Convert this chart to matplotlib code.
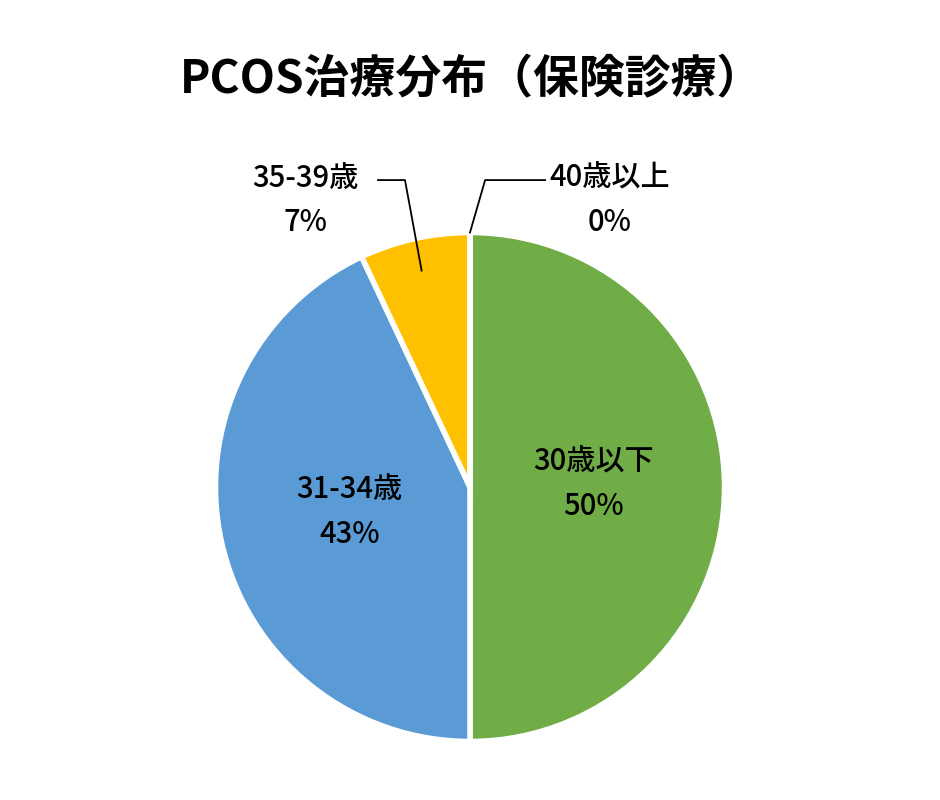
import numpy as np
import matplotlib.pyplot as plt

plt.rcParams['font.family'] = ['Noto Sans CJK JP', 'DejaVu Sans']

labels = ['30歳以下', '31-34歳', '35-39歳', '40歳以上']
values = [50, 43, 7, 0]
colors = ['#70AD47', '#5B9BD5', '#FFC000', '#A5A5A5']

fig = plt.figure(figsize=(9.4, 8), dpi=100)
ax = fig.add_axes([0, 0, 1, 1])

wedges, _ = ax.pie(values, colors=colors, startangle=90, counterclock=False,
                   radius=1.01, wedgeprops=dict(edgecolor='white', linewidth=4))
ax.set_aspect('auto')
ax.set_xlim(-470 / 252, 470 / 252)
ax.set_ylim(-313 / 252, 487 / 252)
ax.axis('off')

fig.text(0.502, 1 - 80 / 800, 'PCOS治療分布（保険診療）', ha='center', va='center',
         fontsize=33, fontweight='bold')

total = sum(values)
pct = [f'{round(v / total * 100)}%' for v in values]

# inside labels
for i in [0, 1]:
    w = wedges[i]
    mid = np.deg2rad((w.theta1 + w.theta2) / 2)
    x, y = 0.49 * np.cos(mid), 0.5 * np.sin(mid) + 0.01
    ax.text(x, y, labels[i] + '\n' + pct[i], ha='center', va='center',
            fontsize=21, fontweight='medium', linespacing=1.55)

# outside labels with leader lines
y1 = 1.218
outside = [(2, 0.88, -0.258, -0.365, -0.655),
           (3, 1.01, 0.06, 0.298, 0.555)]
for i, r, ex, tx, cx in outside:
    w = wedges[i]
    mid = np.deg2rad((w.theta1 + w.theta2) / 2)
    px, py = r * np.cos(mid), r * np.sin(mid)
    ax.plot([px, ex, tx], [py, y1, y1], color='black', lw=1.3)
    ax.text(cx, y1 - 0.08, labels[i] + '\n' + pct[i], ha='center', va='center',
            fontsize=21, fontweight='medium', linespacing=1.55)

fig.savefig('out.png', dpi=100)
